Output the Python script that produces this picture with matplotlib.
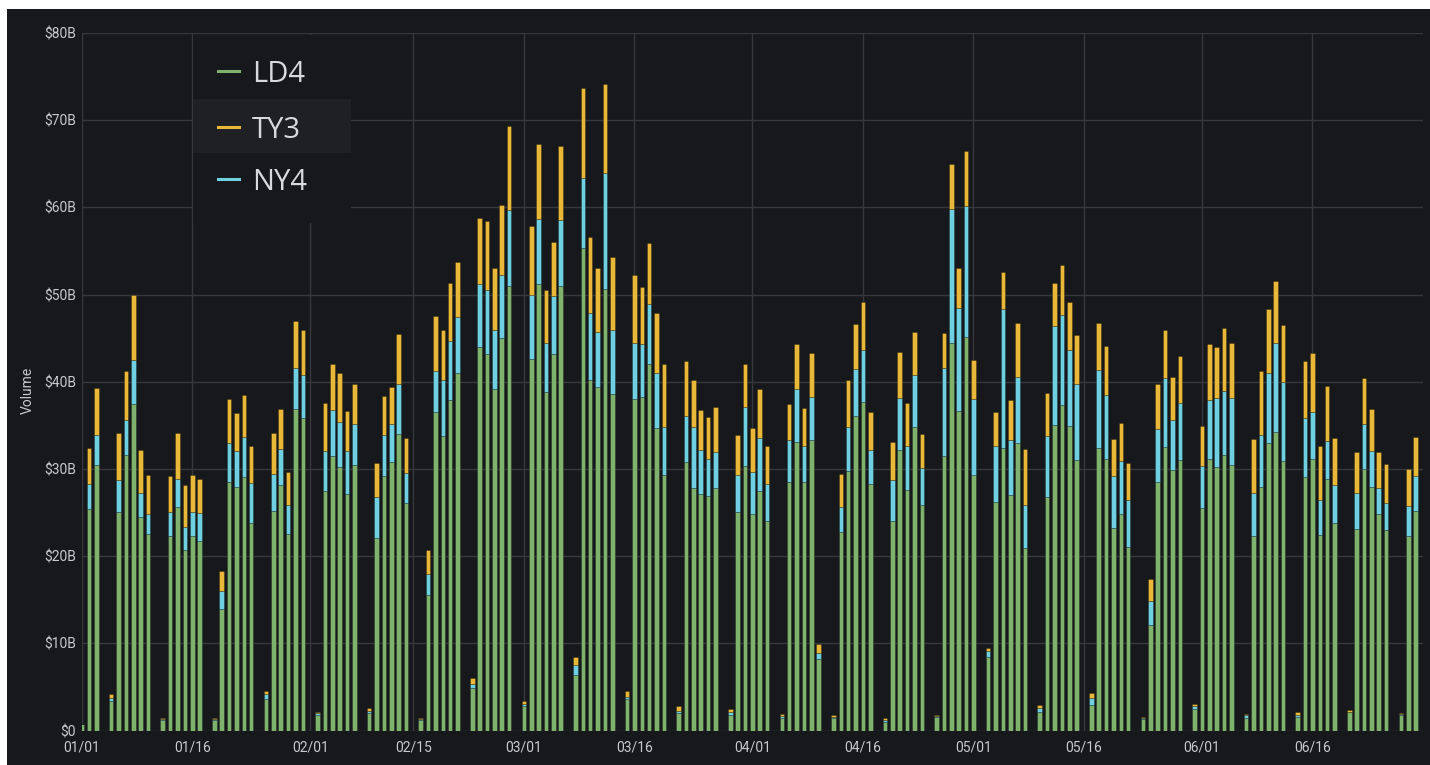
import numpy as np
import pandas as pd
import matplotlib
matplotlib.use("Agg")
import matplotlib.pyplot as plt
from matplotlib.patches import Rectangle
from matplotlib.lines import Line2D
from matplotlib.ticker import FuncFormatter

# Daily volume by data centre, $B (Saturdays have no trading -> 0)
dates = pd.date_range("2020-01-01", "2020-06-30", freq="D")

ld4 = [
    # Jan
    0.8, 25.4, 30.5, 0, 3.4, 25.1, 31.6, 37.5, 24.5, 22.5, 0, 1.2, 22.3, 25.7, 20.7, 22.3,
    21.7, 0, 1.2, 13.9, 28.5, 28.0, 29.1, 23.8, 0, 3.6, 25.2, 28.2, 22.5, 36.9, 35.8,
    # Feb
    0, 1.8, 27.5, 31.5, 30.2, 27.1, 30.5, 0, 2.0, 22.1, 29.2, 30.8, 34.0, 26.1, 0,
    1.2, 15.6, 36.5, 33.8, 37.9, 41.0, 0, 4.9, 44.0, 43.2, 39.2, 45.0, 51.0, 0,
    # Mar
    2.8, 42.6, 51.2, 38.8, 43.2, 51.0, 0, 6.4, 55.4, 40.2, 39.4, 50.6, 38.6, 0, 3.6, 38.0,
    38.3, 42.0, 34.7, 29.3, 0, 2.0, 30.8, 27.8, 27.1, 26.9, 27.8, 0, 1.8, 25.1, 30.3,
    # Apr
    24.9, 27.5, 24.1, 0, 1.5, 28.5, 33.1, 28.5, 33.3, 8.2, 0, 1.4, 22.8, 29.8, 36.1,
    37.7, 28.3, 0, 1.0, 24.1, 32.2, 27.6, 34.8, 25.9, 0, 1.6, 31.5, 44.4, 36.7, 45.1,
    # May
    29.3, 0, 8.4, 26.2, 32.4, 27.0, 33.0, 21.0, 0, 2.1, 26.8, 35.0, 37.3, 34.9, 31.0, 0,
    3.0, 32.4, 31.1, 23.2, 24.8, 21.1, 0, 1.3, 12.1, 28.5, 32.5, 29.9, 31.0, 0, 2.5,
    # Jun
    25.5, 31.1, 30.2, 31.6, 30.5, 0, 1.5, 22.3, 27.9, 33.0, 34.3, 30.9, 0, 1.6, 29.1,
    31.2, 22.4, 28.9, 23.8, 0, 2.1, 23.1, 30.0, 27.9, 24.8, 23.0, 0, 1.8, 22.3, 25.2,
]

ny4 = [
    # Jan
    0, 2.9, 3.4, 0, 0.3, 3.7, 4.0, 5.0, 2.7, 2.4, 0, 0.1, 2.8, 3.2, 2.7, 2.8,
    3.3, 0, 0.1, 2.1, 4.5, 4.1, 4.6, 4.6, 0, 0.6, 4.2, 4.1, 3.4, 4.7, 5.0,
    # Feb
    0, 0.2, 4.6, 5.3, 5.2, 5.0, 4.7, 0, 0.3, 4.7, 4.7, 4.4, 5.8, 3.4, 0,
    0.1, 2.4, 4.8, 6.4, 6.8, 6.4, 0, 0.5, 7.2, 7.3, 6.8, 7.3, 8.7, 0,
    # Mar
    0.3, 7.4, 7.5, 5.6, 6.6, 7.6, 0, 1.1, 8.0, 7.7, 6.3, 13.4, 7.4, 0, 0.3, 6.5,
    6.0, 6.9, 6.3, 5.5, 0, 0.3, 5.3, 7.0, 5.1, 4.2, 4.1, 0, 0.3, 4.2, 6.8,
    # Apr
    4.8, 6.1, 4.2, 0, 0.15, 4.8, 6.1, 4.1, 5.0, 0.7, 0, 0.2, 2.9, 5.0, 5.4,
    6.0, 3.9, 0, 0.2, 4.6, 5.9, 5.1, 6.0, 4.2, 0, 0.1, 10.1, 15.4, 11.8, 15.1,
    # May
    8.7, 0, 0.7, 6.5, 16.0, 6.3, 7.6, 4.9, 0, 0.5, 7.0, 11.4, 10.4, 8.7, 8.8, 0,
    0.8, 9.0, 7.4, 6.0, 6.1, 5.3, 0, 0.15, 2.8, 6.1, 7.9, 5.7, 6.6, 0, 0.3,
    # Jun
    4.8, 6.8, 7.9, 7.4, 7.7, 0, 0.25, 5.0, 6.0, 8.0, 10.2, 9.1, 0, 0.2, 6.8,
    5.4, 4.1, 4.3, 4.4, 0, 0.1, 4.2, 5.2, 4.2, 3.0, 3.1, 0, 0.1, 3.5, 4.0,
]

ty3 = [
    # Jan
    0, 4.1, 5.4, 0, 0.5, 5.3, 5.6, 7.5, 5.0, 4.4, 0, 0.2, 4.1, 5.2, 4.8, 4.2,
    3.9, 0, 0.1, 2.3, 5.0, 4.3, 4.8, 4.2, 0, 0.4, 4.7, 4.6, 3.8, 5.4, 5.1,
    # Feb
    0, 0.1, 5.5, 5.2, 5.6, 4.6, 4.6, 0, 0.3, 3.9, 4.5, 4.2, 5.7, 4.1, 0,
    0.2, 2.7, 6.2, 5.7, 6.6, 6.3, 0, 0.7, 7.6, 8.0, 7.0, 8.0, 9.6, 0,
    # Mar
    0.3, 7.9, 8.6, 6.1, 6.2, 8.4, 0, 1.0, 10.3, 8.7, 7.4, 10.1, 8.3, 0, 0.6, 7.8,
    6.6, 7.0, 6.9, 7.2, 0, 0.5, 6.3, 5.4, 4.6, 4.9, 5.2, 0, 0.4, 4.6, 4.9,
    # Apr
    5.0, 5.6, 4.3, 0, 0.25, 4.2, 5.1, 4.4, 5.0, 1.0, 0, 0.2, 3.7, 5.4, 5.1,
    5.5, 4.4, 0, 0.2, 4.4, 5.3, 4.9, 4.9, 3.9, 0, 0.1, 4.0, 5.2, 4.5, 6.3,
    # May
    4.5, 0, 0.4, 3.9, 4.2, 4.6, 6.1, 6.4, 0, 0.4, 4.9, 4.9, 5.7, 5.5, 5.6, 0,
    0.5, 5.3, 5.6, 4.2, 4.4, 4.3, 0, 0.15, 2.5, 5.2, 5.6, 4.9, 5.4, 0, 0.3,
    # Jun
    4.6, 6.4, 5.9, 7.2, 6.2, 0, 0.2, 6.1, 7.3, 7.4, 7.1, 6.5, 0, 0.3, 6.5,
    6.7, 6.1, 6.3, 5.4, 0, 0.2, 4.7, 5.2, 4.8, 4.1, 4.5, 0, 0.1, 4.2, 4.5,
]

legend_names = ["LD4", "TY3", "NY4"]
tick_dates = ["2020-01-01", "2020-01-16", "2020-02-01", "2020-02-15", "2020-03-01", "2020-03-16",
              "2020-04-01", "2020-04-16", "2020-05-01", "2020-05-16", "2020-06-01", "2020-06-16"]

BG = "#17181c"
GRID = "#36383d"
TEXT = "#c7c9cd"
GREEN = "#7eb26d"
YELLOW = "#eab839"
BLUE = "#6ed0e0"
W, H = 1430, 765

fig = plt.figure(figsize=(W / 100, H / 100), dpi=100, facecolor="white")
fig.add_artist(Rectangle((7 / W, 0), 1 - 7 / W, 1 - 9 / H, transform=fig.transFigure,
                         facecolor=BG, edgecolor="none", zorder=-5))

ax = fig.add_axes([81.7 / W, (H - 730.7) / H, (1423 - 81.7) / W, (730.7 - 33) / H])
ax.set_facecolor(BG)

ld4 = np.array(ld4)
ny4 = np.array(ny4)
ty3 = np.array(ty3)
mask = (ld4 + ny4 + ty3) > 0
d = dates[mask]
edge = dict(edgecolor=(0, 0, 0, 0.35), linewidth=0.5)
ax.bar(d, ld4[mask], width=0.62, color=GREEN, **edge)
ax.bar(d, ny4[mask], width=0.62, bottom=ld4[mask], color=BLUE, **edge)
ax.bar(d, ty3[mask], width=0.62, bottom=(ld4 + ny4)[mask], color=YELLOW, **edge)

ax.set_xlim(pd.Timestamp("2020-01-01"), pd.Timestamp("2020-07-01"))
ax.set_ylim(0, 80)
ax.set_yticks(range(0, 81, 10))
ax.yaxis.set_major_formatter(FuncFormatter(lambda v, p: "$0" if v == 0 else f"${v:.0f}B"))
ticks = pd.to_datetime(tick_dates)
ax.set_xticks(ticks)
ax.set_xticklabels([t.strftime("%m/%d") for t in ticks])

ax.grid(True, color=GRID, linewidth=1)
ax.set_axisbelow(True)
for s in ax.spines.values():
    s.set_visible(False)
ax.tick_params(axis="both", length=0, colors=TEXT, labelsize=10)
ax.tick_params(axis="y", pad=4)
ax.tick_params(axis="x", pad=7)
for lab in ax.get_xticklabels() + ax.get_yticklabels():
    lab.set_family("Roboto")

ax.set_ylabel("Volume", color=TEXT, fontsize=10, family="Roboto")
ax.yaxis.set_label_coords(-0.035, 0.488)

# legend overlay (drawn by hand to get the hovered row look)
fig.add_artist(Rectangle((193 / W, 1 - 223 / H), 158 / W, 188 / H, transform=fig.transFigure,
                         facecolor=BG, edgecolor="none", zorder=2))
fig.add_artist(Rectangle((193 / W, 1 - 153 / H), 158 / W, 54 / H, transform=fig.transFigure,
                         facecolor="#1f2024", edgecolor="none", zorder=2))
legend_colors = {"LD4": GREEN, "TY3": YELLOW, "NY4": BLUE}
for name, py in zip(legend_names, [71, 127, 179]):
    fy = 1 - py / H
    fig.add_artist(Line2D([218 / W, 239 / W], [fy, fy], color=legend_colors[name], linewidth=2.2,
                          transform=fig.transFigure, zorder=3))
    fig.text(252 / W, 1 - (py + 10.5) / H, name, fontsize=21, color="#d8d9da",
             family="Open Sans", va="baseline", zorder=3)

fig.savefig("out.png", dpi=100, facecolor=fig.get_facecolor())
